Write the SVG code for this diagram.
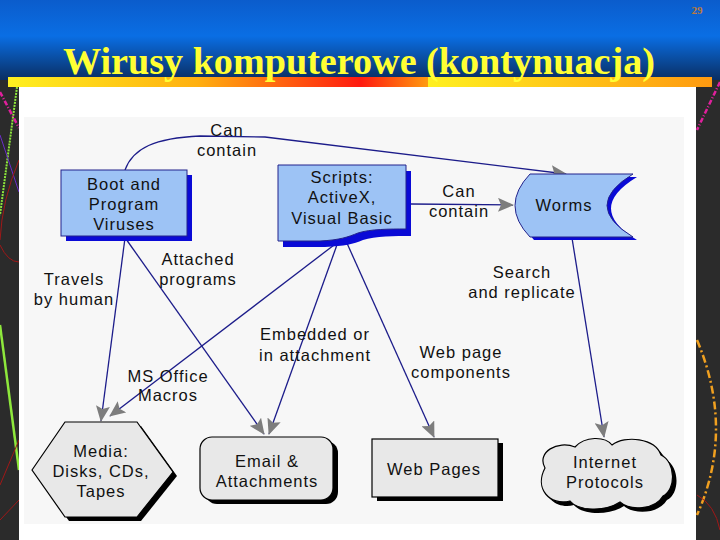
<svg xmlns="http://www.w3.org/2000/svg" width="720" height="540" viewBox="0 0 720 540">
<defs>
<linearGradient id="hdr" x1="0" y1="0" x2="0" y2="1">
<stop offset="0" stop-color="#0b5ccc"/>
<stop offset="0.45" stop-color="#0a6ee4"/>
<stop offset="1" stop-color="#0a2e62"/>
</linearGradient>
<linearGradient id="bar1" x1="0" y1="0" x2="1" y2="0">
<stop offset="0" stop-color="#fff020"/>
<stop offset="0.45" stop-color="#ffb010"/>
<stop offset="0.84" stop-color="#ff1a10"/>
<stop offset="1" stop-color="#ff9a10"/>
</linearGradient>
<linearGradient id="bar2" x1="0" y1="0" x2="1" y2="0">
<stop offset="0" stop-color="#fff020"/>
<stop offset="1" stop-color="#ff9a10"/>
</linearGradient>
<marker id="ah" markerUnits="userSpaceOnUse" viewBox="0 0 16 14" refX="15" refY="7" markerWidth="16" markerHeight="14" orient="auto">
<path d="M0,0 L16,7 L0,14 L3,7 Z" fill="#7d7d7d"/>
</marker>
</defs>
<style>
.lbl{font-family:"Liberation Sans",Arial,sans-serif;font-size:16.5px;letter-spacing:1px;fill:#111;text-anchor:middle}
.con{fill:none;stroke:#1c1c8a;stroke-width:1.3}
.bfill{fill:#9dc3f5;stroke:#23238c;stroke-width:1}
.bsh{fill:#0a0ad6}
.gfill{fill:#e8e8e8;stroke:#000;stroke-width:1.2}
.gsh{fill:#000}
</style>
<rect width="720" height="540" fill="#2b2b2b"/>
<rect width="720" height="80" fill="url(#hdr)"/>
<g id="decor" fill="none">
<path d="M17,87 L0,215" stroke="#8ee83c" stroke-width="2" stroke-dasharray="2 1"/>
<path d="M0,92 L19,128" stroke="#e0209c" stroke-width="2.5" stroke-dasharray="5 2 1 2"/>
<path d="M0,135 L19,192" stroke="#6a2cc8" stroke-width="1"/>
<path d="M19,160 Q2,200 0,240" stroke="#a01818" stroke-width="1"/>
<path d="M0,245 Q8,262 19,262" stroke="#a01818" stroke-width="1"/>
<path d="M0,325 L19,470" stroke="#8ee83c" stroke-width="2.5"/>
<path d="M0,485 L19,440" stroke="#a01818" stroke-width="1"/>
<path d="M0,520 L19,500" stroke="#a01818" stroke-width="1"/>
<path d="M720,82 L697,130" stroke="#e0209c" stroke-width="2.5" stroke-dasharray="5 2 1 2"/>
<path d="M697,340 Q735,430 697,515" stroke="#f0a020" stroke-width="2.5" stroke-dasharray="8 3 2 3"/>
<path d="M697,495 Q715,505 720,530" stroke="#a01818" stroke-width="1"/>
</g>
<rect x="19" y="87" width="677" height="453" fill="#ffffff"/>
<rect x="24" y="117" width="660" height="407" fill="#f7f7f7"/>
<rect x="8" y="77" width="420" height="10" fill="url(#bar1)"/>
<rect x="428" y="77" width="284" height="10" fill="url(#bar2)"/>
<text x="359" y="74" font-family="'Liberation Serif','Times New Roman',serif" font-weight="bold" font-size="37" fill="#ffff33" text-anchor="middle" textLength="592" lengthAdjust="spacingAndGlyphs">Wirusy komputerowe (kontynuacja)</text>
<text x="697" y="14" font-family="'Liberation Serif','Times New Roman',serif" font-weight="bold" font-size="11" fill="#c07a3a" text-anchor="middle">29</text>

<g id="connectors">
<path class="con" d="M125,170 C133,148 155,138 200,136 L265,137 L566,174" marker-end="url(#ah)"/>
<path class="con" d="M411,204 L513,205" marker-end="url(#ah)"/>
<path class="con" d="M125,238 L101,421" stroke-width="2.2" marker-end="url(#ah)"/>
<path class="con" d="M126,239 L264,434" marker-end="url(#ah)"/>
<path class="con" d="M338,242 L110,416" marker-end="url(#ah)"/>
<path class="con" d="M338,242 L269,434" marker-end="url(#ah)"/>
<path class="con" d="M346,241 L434,437" marker-end="url(#ah)"/>
<path class="con" d="M572,238 L604,437" marker-end="url(#ah)"/>
<text class="lbl" x="227" y="136">Can</text>
<text class="lbl" x="227" y="156">contain</text>
<text class="lbl" x="459" y="197">Can</text>
<text class="lbl" x="459" y="217">contain</text>
<text class="lbl" x="74" y="285">Travels</text>
<text class="lbl" x="74" y="305">by human</text>
<text class="lbl" x="198" y="265">Attached</text>
<text class="lbl" x="198" y="285">programs</text>
<text class="lbl" x="168" y="382">MS Office</text>
<text class="lbl" x="168" y="401">Macros</text>
<text class="lbl" x="315" y="340">Embedded or</text>
<text class="lbl" x="315" y="361">in attachment</text>
<text class="lbl" x="461" y="358">Web page</text>
<text class="lbl" x="461" y="378">components</text>
<text class="lbl" x="522" y="278">Search</text>
<text class="lbl" x="522" y="298">and replicate</text>
</g>

<g id="boot">
<rect class="bsh" x="66" y="175" width="126" height="66"/>
<rect class="bfill" x="61" y="170" width="126" height="66"/>
<text class="lbl" x="124" y="190">Boot and</text>
<text class="lbl" x="124" y="210">Program</text>
<text class="lbl" x="124" y="230">Viruses</text>
</g>

<g id="scripts">
<path class="bsh" d="M283,171 L411,171 L411,236 C395,236 375,236 363,240 C353,244 345,246 325,247 L283,247 Z"/>
<path class="bfill" d="M278,165 L406,165 L406,229 C390,229 370,229 358,233 C348,237 340,240 320,241 L278,241 Z"/>
<text class="lbl" x="342" y="183">Scripts:</text>
<text class="lbl" x="342" y="203">ActiveX,</text>
<text class="lbl" x="342" y="224">Visual Basic</text>
</g>

<g id="worms">
<path class="bsh" d="M534,177 L637,177 Q585,208.5 637,240 L534,240 Q504,208.5 534,177 Z"/>
<path class="bfill" d="M530,174 L633,174 Q581,205.5 633,237 L530,237 Q500,205.5 530,174 Z"/>
<text class="lbl" x="564" y="211">Worms</text>
</g>

<g id="media">
<polygon class="gsh" points="36,474 69,426 141,426 177,476 141,521 69,521"/>
<polygon class="gfill" points="32,470 65,422 137,422 173,472 137,517 65,517"/>
<text class="lbl" x="101" y="457">Media:</text>
<text class="lbl" x="101" y="477">Disks, CDs,</text>
<text class="lbl" x="101" y="497">Tapes</text>
</g>

<g id="email">
<rect class="gsh" x="205" y="441" width="133" height="63" rx="12"/>
<rect class="gfill" x="200" y="437" width="133" height="63" rx="12"/>
<text class="lbl" x="267" y="467">Email &amp;</text>
<text class="lbl" x="267" y="487">Attachments</text>
</g>

<g id="web">
<rect class="gsh" x="377" y="443" width="126" height="58"/>
<rect class="gfill" x="372" y="439" width="126" height="58"/>
<text class="lbl" x="434" y="475">Web Pages</text>
</g>

<g id="internet">
<path class="gsh" transform="translate(4,4)" d="M545,468 C536,452 558,440 575,447 C585,436 605,436 612,445 C625,435 655,438 661,455 C676,462 676,490 663,496 C655,510 630,511 620,502 C605,512 578,511 570,501 C550,506 534,489 545,468 Z"/>
<path class="gfill" d="M545,468 C536,452 558,440 575,447 C585,436 605,436 612,445 C625,435 655,438 661,455 C676,462 676,490 663,496 C655,510 630,511 620,502 C605,512 578,511 570,501 C550,506 534,489 545,468 Z"/>
<text class="lbl" x="605" y="468">Internet</text>
<text class="lbl" x="605" y="488">Protocols</text>
</g>
</svg>
